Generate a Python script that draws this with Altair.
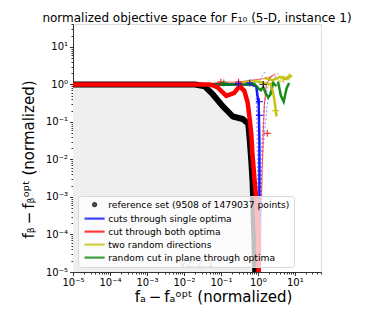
import altair as alt
import pandas as pd

# ---------------- data ----------------
series_names = [
    "reference set (9508 of 1479037 points)",
    "cuts through single optima",
    "cut through both optima",
    "two random directions",
    "random cut in plane through optima",
]
series_colors = ["#000000", "#0000ff", "#ff0000", "#bfbf00", "#008000"]

# reference set (Pareto front approximation)
ref_x = [1e-5, 0.02, 0.036, 0.06, 0.11, 0.21, 0.39, 0.55, 0.6, 0.66, 0.72, 0.76, 0.8, 0.85]
ref_y = [1.0, 1.0, 0.9, 0.55, 0.27, 0.14, 0.12, 0.09, 0.035, 0.01, 2.5e-3, 5e-4, 1e-4, 1e-5]

# thick lines
red_x = [1e-5, 0.05, 0.08, 0.14, 0.23, 0.32, 0.43, 0.53, 0.6, 0.66, 0.71, 0.81, 0.91, 1.0, 1.05]
red_y = [1.0, 1.0, 0.85, 0.5, 0.6, 0.9, 0.68, 0.33, 0.12, 0.05, 0.015, 3e-3, 8.7e-4, 1e-4, 1e-5]
blue_x = [1e-5, 0.1, 0.3, 0.6, 0.9, 1.05, 1.1, 1.1, 1.1]
blue_y = [1.0, 1.0, 1.0, 1.02, 0.9, 0.3, 0.03, 1e-3, 1e-5]
green_x = [1e-5, 0.5, 0.8, 1.0, 1.2, 1.4, 1.6, 1.9, 2.2, 2.6, 3.2]
green_y = [1.0, 1.0, 1.05, 0.8, 0.7, 0.85, 0.6, 0.45, 0.55, 1.1, 0.9]
green2_x = [3.5, 4.2, 5.0, 6.0, 7.0]
green2_y = [1.2, 0.5, 0.35, 0.8, 1.1]
yellow_x = [0.3, 0.6, 1.0, 1.5, 2.2, 2.6, 2.9, 3.2]
yellow_y = [1.1, 1.2, 1.2, 1.1, 1.0, 0.6, 0.3, 0.14]
yellow2_x = [1.5, 2.5, 4.0, 6.0, 8.0]
yellow2_y = [1.5, 1.3, 1.6, 1.4, 1.8]

# thin / faded lines (funnel around the optimum)
lblue1_x = [1.05, 1.3, 1.8, 2.5, 3.5]
lblue1_y = [1e-5, 0.01, 0.3, 1.3, 2.0]
lblue2_x = [1.05, 1.2, 1.5, 2.0, 2.5]
lblue2_y = [1e-5, 0.01, 0.3, 1.2, 1.8]
lblue3_x = [1.05, 1.0, 0.95, 0.9, 1.2, 1.6]
lblue3_y = [1e-5, 1e-3, 0.05, 0.5, 1.5, 2.2]
lred1_x = [1.15, 1.25, 1.4, 1.5, 1.7, 2.2]
lred1_y = [1e-5, 1e-3, 0.05, 0.3, 1.0, 1.6]
lred2_x = [0.05, 0.1, 0.3, 0.7, 1.2, 2.0, 3.0]
lred2_y = [1.05, 1.15, 1.15, 1.3, 1.4, 1.5, 1.9]
lyellow_x = [2.0, 3.0, 4.5, 6.5]
lyellow_y = [1.0, 1.4, 1.2, 1.6]

# "+" markers on the cuts
cross_x = [0.1, 0.3, 1.8, 0.3, 0.6, 1.1, 1.1, 3.0, 5.0, 7.0, 0.12, 1.4]
cross_y = [1.15, 1.15, 0.05, 1.05, 1.1, 0.35, 0.15, 0.2, 1.4, 1.6, 1.1, 1.0]
cross_s = [2, 2, 2, 1, 1, 1, 1, 3, 3, 3, 4, 0]

version_text = ["v2.2.1"]
version_x = [0.022]
version_y = [1.6e-5]

x_major = [1e-5, 1e-4, 1e-3, 1e-2, 1e-1, 1, 10]
y_major = [1e-5, 1e-4, 1e-3, 1e-2, 1e-1, 1, 10]
x_max = 51
y_max = 41

# ---------------- build tables ----------------
def rows(xs, ys, sidx, lid, style):
    return [dict(x=a, y=b, series=series_names[sidx], line=lid, style=style, i=k)
            for k, (a, b) in enumerate(zip(xs, ys))]

lines = []
lines += rows(lblue1_x, lblue1_y, 1, "lb1", "dot")
lines += rows(lblue2_x, lblue2_y, 1, "lb2", "dot")
lines += rows(lblue3_x, lblue3_y, 1, "lb3", "dot")
lines += rows(lred1_x, lred1_y, 2, "lr1", "thin")
lines += rows(lred2_x, lred2_y, 2, "lr2", "thin")
lines += rows(lyellow_x, lyellow_y, 3, "ly1", "thin")
lines += rows(blue_x, blue_y, 1, "b", "thick")
lines += rows(red_x, red_y, 2, "r", "thickest")
lines += rows(green_x, green_y, 4, "g1", "thick")
lines += rows(green2_x, green2_y, 4, "g2", "thick")
lines += rows(yellow_x, yellow_y, 3, "y1", "thick")
lines += rows(yellow2_x, yellow2_y, 3, "y2", "thick")
df = pd.DataFrame(lines)

ref_df = pd.DataFrame(dict(x=ref_x, y=ref_y, series=series_names[0], i=range(len(ref_x))))
ref_df["y0"] = 1e-5
cross_df = pd.DataFrame(dict(x=cross_x, y=cross_y,
                             series=[series_names[s] for s in cross_s]))
ver_df = pd.DataFrame(dict(x=version_x, y=version_y, t=version_text))

# ---------------- axes ----------------
def minors(mx):
    out = []
    for e in range(-5, 2):
        for k in range(2, 10):
            v = k * 10.0 ** e
            if v < mx:
                out.append(v)
    return out

sup = {-5: "⁻⁵", -4: "⁻⁴", -3: "⁻³", -2: "⁻²", -1: "⁻¹", 0: "⁰", 1: "¹"}
E = "round(log(datum.value)/LN10)"
nested = "''"
for k, s in sup.items():
    nested = f"({E} == {k} ? '{s}' : {nested})"
major_test = f"abs(log(datum.value)/LN10 - {E}) < 1e-6"
label_expr = f"{major_test} ? '10' + {nested} : ''"

def make_axis(values, title, **kw):
    return alt.Axis(
        values=values, title=title, labelExpr=label_expr, grid=False,
        labelOverlap=False, labelFlush=False, labelFontSize=10,
        labelFont="DejaVu Sans", labelColor="#000", titleFont="DejaVu Sans",
        titleFontSize=15, titleFontWeight="normal", titleColor="#000",
        domainColor="#333", tickColor="#333", titleAlign="center",
        tickSize={"condition": {"test": major_test, "value": 3.5}, "value": 2},
        **kw)

x_enc = alt.X("x:Q", scale=alt.Scale(type="log", domain=[1e-5, x_max], nice=False),
              axis=make_axis(x_major + minors(x_max), "fₐ\u2009−\u2009fₐᵒᵖᵗ (normalized)",
                             titlePadding=2, titleX=140))
y_enc = alt.Y("y:Q", scale=alt.Scale(type="log", domain=[1e-5, y_max], nice=False),
              axis=make_axis(y_major + minors(y_max), "fᵦ\u2009−\u2009fᵦᵒᵖᵗ (normalized)",
                             titlePadding=9, titleY=135))

color_scale = alt.Scale(domain=series_names, range=series_colors)
line_path = "M-6.7,0H6.7"
shape_scale = alt.Scale(domain=series_names,
                        range=["circle", line_path, line_path, line_path, line_path])

legend = alt.Legend(
    title=None, orient="bottom-left", offset=5, fillColor="rgba(255,255,255,0.75)",
    strokeColor="#d8d8d8", padding=4, cornerRadius=3, labelFontSize=9.2,
    labelFont="DejaVu Sans", labelColor="#000", rowPadding=3, labelOffset=9,
    labelLimit=400, symbolOffset=8, symbolSize=9, symbolStrokeWidth=2.2,
    symbolOpacity=0.75,
)

color_enc = alt.Color("series:N", scale=color_scale, legend=legend, sort=series_names)

base = alt.Chart(df)

area = alt.Chart(ref_df).mark_area(color="#efefef", opacity=1, clip=True).encode(
    x=x_enc, y=y_enc, y2="y0:Q")

def line_layer(style, width, opacity, dash=None):
    kw = dict(strokeWidth=width, opacity=opacity, clip=True)
    if dash:
        kw["strokeDash"] = dash
    return base.transform_filter(alt.datum.style == style).mark_line(**kw).encode(
        x="x:Q", y="y:Q", detail="line:N", order="i:Q", color=color_enc)

ref_line = alt.Chart(ref_df).mark_line(strokeWidth=6, color="black", strokeCap="round",
                                       strokeJoin="round", clip=True).encode(
    x="x:Q", y="y:Q", order="i:Q")

ref_pts = alt.Chart(ref_df).mark_point(filled=False, size=9, strokeWidth=2, clip=True).encode(
    x="x:Q", y="y:Q", color=color_enc,
    shape=alt.Shape("series:N", scale=shape_scale, legend=legend, sort=series_names))

dot_l = line_layer("dot", 1, 0.45, [2, 2])
thin_l = line_layer("thin", 1.2, 0.6)
thick_l = line_layer("thick", 2.5, 0.9)
thickest_l = line_layer("thickest", 4.5, 1)

crosses = alt.Chart(cross_df).mark_point(shape="M-1,0H1M0,-1V1", size=50, strokeWidth=1.2,
                                         opacity=0.8, filled=False, clip=True).encode(
    x="x:Q", y="y:Q", color=color_enc)

ver = alt.Chart(ver_df).mark_text(color="#999", fontSize=11, font="DejaVu Sans").encode(
    x="x:Q", y="y:Q", text="t:N")

chart = alt.layer(area, ver, dot_l, thin_l, thick_l, ref_line, ref_pts, thickest_l, crosses).properties(
    width=248, height=248,
    title=alt.Title("normalized objective space for F₁₀ (5-D, instance 1)",
                    font="DejaVu Sans", fontSize=12, fontWeight="normal", color="#000",
                    offset=6, frame="group", dy=12),
    padding={"left": 65, "top": 16, "right": 54, "bottom": 38},
    autosize=alt.AutoSizeParams(type="none"),
).configure_view(stroke="#333", strokeWidth=1).configure(background="white")

chart.save("out.html", embed_options={"renderer": "svg", "actions": False})
